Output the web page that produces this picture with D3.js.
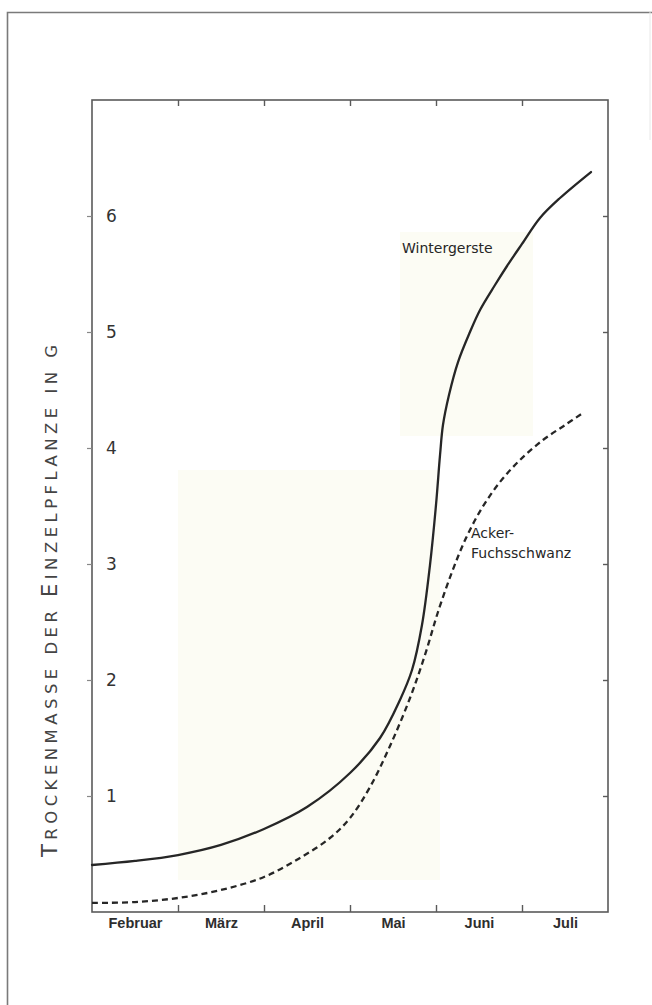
<!DOCTYPE html>
<html>
<head>
<meta charset="utf-8">
<script src="https://cdn.jsdelivr.net/npm/d3@7"></script>
<style>
  html, body { margin: 0; padding: 0; background: #ffffff; }
  svg { display: block; }
</style>
</head>
<body>
<svg id="chart" width="652" height="1005"></svg>
<script>
// ---- data (month index: 0 = start of Februar, 6 = end of Juli) ----
const months = ["Februar", "März", "April", "Mai", "Juni", "Juli"];
const yTicks = [1, 2, 3, 4, 5, 6];

const wintergersteT = [0.000, 0.500, 1.000, 1.500, 2.000, 2.500, 3.000, 3.349, 3.581, 3.721, 3.837, 3.930, 4.000, 4.047, 4.081, 4.151, 4.256, 4.395, 4.512, 4.686, 4.826, 5.000, 5.209, 5.442, 5.802];
const wintergersteV = [0.405, 0.440, 0.491, 0.578, 0.716, 0.905, 1.198, 1.500, 1.828, 2.086, 2.474, 2.991, 3.509, 3.940, 4.198, 4.457, 4.741, 5.000, 5.190, 5.405, 5.569, 5.759, 5.983, 6.155, 6.379];

const fuchsT = [0.000, 0.500, 1.000, 1.500, 2.000, 2.419, 2.767, 3.000, 3.233, 3.465, 3.698, 3.872, 4.023, 4.186, 4.349, 4.535, 4.744, 4.977, 5.244, 5.500, 5.709];
const fuchsV = [0.078, 0.086, 0.121, 0.190, 0.302, 0.466, 0.638, 0.810, 1.078, 1.431, 1.845, 2.216, 2.586, 2.931, 3.224, 3.483, 3.707, 3.897, 4.069, 4.198, 4.302];

const seriesLabels = { winter: "Wintergerste", fuchs1: "Acker-", fuchs2: "Fuchsschwanz" };

// ---- layout ----
const svg = d3.select("#chart");
const L = 92, R = 608, T = 100, B = 912;
const x = d3.scaleLinear().domain([0, 6]).range([L, R]);
const y = d3.scaleLinear().domain([0, 7]).range([B, T]);

const ink = "#262626";
const axisCol = "#5a5a5a";

// outer frame (page border)
svg.append("path")
  .attr("d", "M7.5,1005 L7.5,12.5 L652,12.5")
  .attr("fill", "none").attr("stroke", "#7a7a7a").attr("stroke-width", 1.6);
svg.append("line").attr("x1", 650).attr("x2", 650).attr("y1", 12).attr("y2", 140)
  .attr("stroke", "#e8e8e8").attr("stroke-width", 1);

// faint paper tint areas
svg.append("rect").attr("x", 400).attr("y", 232).attr("width", 133).attr("height", 204).attr("fill", "#fcfcf4");
svg.append("rect").attr("x", 178).attr("y", 470).attr("width", 262).attr("height", 410).attr("fill", "#fcfcf4");

// plot box
svg.append("rect").attr("x", L).attr("y", T).attr("width", R - L).attr("height", B - T)
  .attr("fill", "none").attr("stroke", axisCol).attr("stroke-width", 1.6);

// left axis: ticks outward, labels inside
const gL = svg.append("g").attr("transform", `translate(${L},0)`)
  .call(d3.axisRight(y).tickValues(yTicks).tickSizeInner(-5).tickSizeOuter(0).tickPadding(14).tickFormat(d3.format("d")));
gL.select(".domain").remove();
gL.selectAll(".tick line").attr("stroke", "#888").attr("stroke-width", 1.2);
gL.selectAll(".tick text").attr("fill", "#333").attr("font-family", "DejaVu Sans, sans-serif").attr("font-size", 17);

// right axis: inward ticks
const gR = svg.append("g").attr("transform", `translate(${R},0)`)
  .call(d3.axisLeft(y).tickValues(yTicks).tickSizeInner(5).tickSizeOuter(0).tickFormat(""));
gR.select(".domain").remove();
gR.selectAll(".tick line").attr("stroke", axisCol).attr("stroke-width", 1.4);

// top axis: inward ticks
const gT = svg.append("g").attr("transform", `translate(0,${T})`)
  .call(d3.axisBottom(x).tickValues([1, 2, 3, 4, 5]).tickSizeInner(6).tickSizeOuter(0).tickFormat(""));
gT.select(".domain").remove();
gT.selectAll(".tick line").attr("stroke", axisCol).attr("stroke-width", 1.4);

// bottom axis: inward ticks
const gB = svg.append("g").attr("transform", `translate(0,${B})`)
  .call(d3.axisTop(x).tickValues([1, 2, 3, 4, 5]).tickSizeInner(7).tickSizeOuter(0).tickFormat(""));
gB.select(".domain").remove();
gB.selectAll(".tick line").attr("stroke", axisCol).attr("stroke-width", 1.4);

// month labels centred in each month
const gM = svg.append("g").attr("transform", `translate(0,${B})`)
  .call(d3.axisBottom(x).tickValues(months.map((m, i) => i + 0.5)).tickSize(0).tickPadding(6)
    .tickFormat((d, i) => months[i]));
gM.select(".domain").remove();
gM.selectAll(".tick text").attr("fill", "#2e2e2e").attr("font-family", "Liberation Sans, Arial, sans-serif")
  .attr("font-weight", "bold").attr("font-size", 14.5);

// y-axis title in small caps
const title = svg.append("text")
  .attr("transform", "translate(57,601) rotate(-90)")
  .attr("text-anchor", "middle")
  .attr("fill", "#444")
  .attr("font-family", "DejaVu Sans, sans-serif")
  .attr("textLength", 512).attr("lengthAdjust", "spacing");
const parts = [["T", 21], ["ROCKENMASSE DER ", 16.5], ["E", 21], ["INZELPFLANZE IN G", 16.5]];
parts.forEach(([t, s]) => title.append("tspan").attr("font-size", s).text(t));

// curves
const line = d3.line().x(d => x(d[0])).y(d => y(d[1])).curve(d3.curveCatmullRom.alpha(0.5));
const winter = wintergersteT.map((t, i) => [t, wintergersteV[i]]);
const fuchs = fuchsT.map((t, i) => [t, fuchsV[i]]);

svg.append("path").datum(winter).attr("d", line)
  .attr("fill", "none").attr("stroke", ink).attr("stroke-width", 2.3).attr("stroke-linecap", "round");
svg.append("path").datum(fuchs).attr("d", line)
  .attr("fill", "none").attr("stroke", ink).attr("stroke-width", 2.3).attr("stroke-dasharray", "6,4");

// series labels
const lab = (t, px, py) => svg.append("text").attr("x", px).attr("y", py).text(t)
  .attr("fill", "#262626").attr("font-family", "DejaVu Sans, sans-serif").attr("font-size", 14);
lab(seriesLabels.winter, 402, 253);
lab(seriesLabels.fuchs1, 471, 538);
lab(seriesLabels.fuchs2, 471, 558);
</script>
</body>
</html>
